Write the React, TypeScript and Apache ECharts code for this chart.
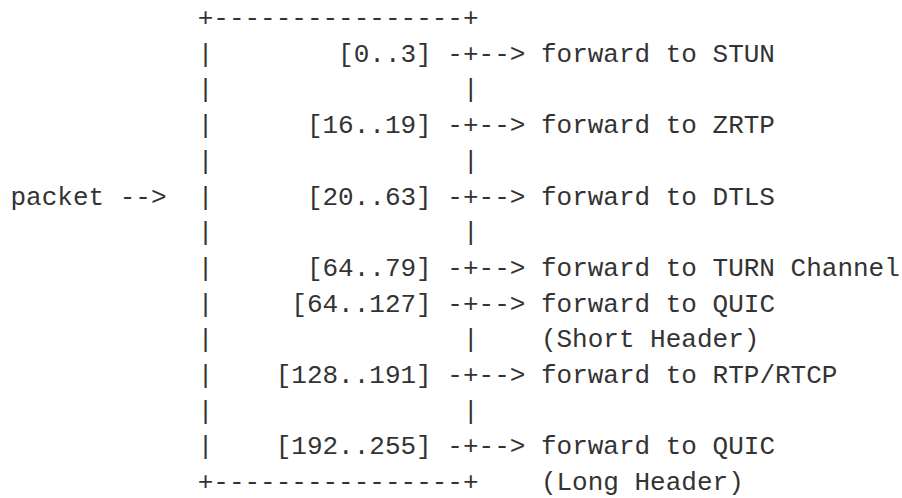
import React, { useEffect, useRef } from "react";
import * as echarts from "echarts";

// Diagram content
const inputLabel = "packet -->";
const ranges = ["[0..3]", "[16..19]", "[20..63]", "[64..79]", "[64..127]", "[128..191]", "[192..255]"];
const targets = ["STUN", "ZRTP", "DTLS", "TURN Channel", "QUIC", "RTP/RTCP", "QUIC"];
const notes = ["", "", "", "", "(Short Header)", "", "(Long Header)"];
// row index (line number) at which each range appears
const rangeRows = [1, 3, 5, 7, 8, 10, 12];
const inputRow = 5;
const totalRows = 14;

const BOX_LEFT_COL = 12;
const BOX_INNER = 16;

function buildLines(): string[] {
  const lines: string[] = [];
  const pad = " ".repeat(BOX_LEFT_COL);
  const border = "+" + "-".repeat(BOX_INNER) + "+";
  const empty = "|" + " ".repeat(BOX_INNER) + "|";
  for (let r = 0; r < totalRows; r++) {
    let prefix = pad;
    if (r === inputRow) prefix = (inputLabel + pad).slice(0, BOX_LEFT_COL);
    if (r === 0 || r === totalRows - 1) {
      lines.push(pad + border);
      continue;
    }
    const idx = rangeRows.indexOf(r);
    if (idx >= 0) {
      lines.push(prefix + "|" + ranges[idx].padStart(BOX_INNER - 2) + " -+--> forward to " + targets[idx]);
    } else {
      lines.push(prefix + empty);
    }
  }
  // notes go on the line after their range
  notes.forEach((n, i) => {
    if (!n) return;
    const r = rangeRows[i] + 1;
    lines[r] = lines[r] + "    " + n;
  });
  return lines;
}

export default function App() {
  const ref = useRef<HTMLDivElement>(null);
  useEffect(() => {
    if (!ref.current) return;
    const chart = echarts.init(ref.current, undefined, { renderer: "svg" });
    const lines = buildLines();
    const x0 = 10.5;
    const cw = 15.6;
    const y0 = 19;
    const lh = 35.7;
    const elements: any[] = [];
    lines.forEach((line, r) => {
      const re = /\S+(?: \S+)*/g;
      let m: RegExpExecArray | null;
      while ((m = re.exec(line)) !== null) {
        elements.push({
          type: "text",
          x: x0 + m.index * cw,
          y: y0 + r * lh,
          style: {
            text: m[0],
            font: '26px "Liberation Mono", "DejaVu Sans Mono", monospace',
            fill: "#333333",
            verticalAlign: "middle",
            align: "left",
          },
        });
      }
    });
    chart.setOption({
      animation: false,
      backgroundColor: "#ffffff",
      graphic: elements,
    });
    return () => chart.dispose();
  }, []);
  return (
    <div
      ref={ref}
      style={{ position: "fixed", left: 0, top: 0, width: 902, height: 498 }}
    />
  );
}
